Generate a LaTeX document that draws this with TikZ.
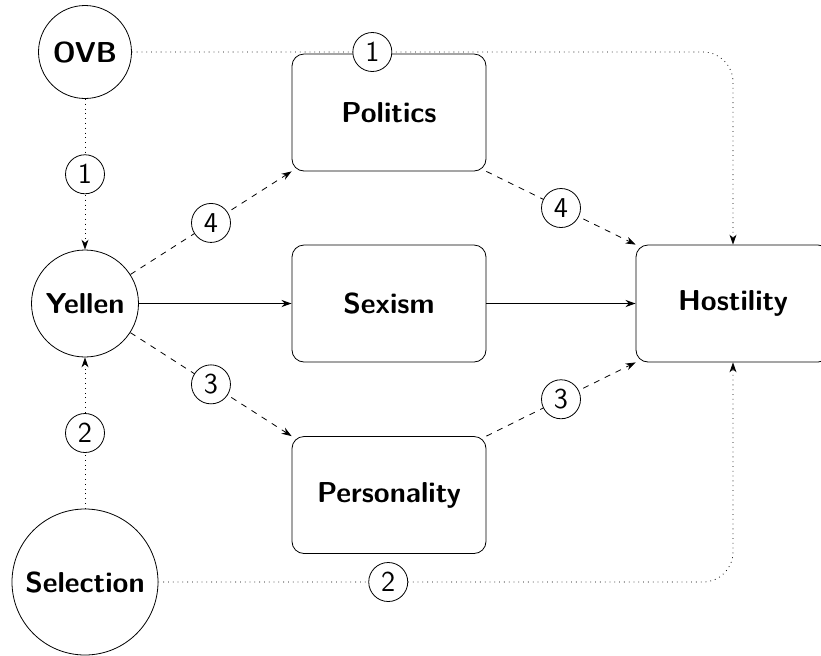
\documentclass[tikz,border=0pt]{standalone}
\usetikzlibrary{arrows.meta}
\begin{document}
\begin{tikzpicture}[x=0.5pt,y=-0.5pt,
  every node/.style={font=\sffamily\bfseries\Large},
  circ/.style={circle,draw,inner sep=0pt},
  box/.style={rectangle,draw,rounded corners=6pt,minimum width=97pt,minimum height=58.5pt},
  lab/.style={circle,draw,solid,fill=white,inner sep=0pt,minimum size=19.5pt,font=\sffamily\Large},
  tip/.style={-{Stealth[length=5pt,width=3.5pt]}},
  dotline/.style={tip,dotted},
  dashline/.style={tip,dashed},
  mainline/.style={tip,line width=0.9pt}]
\useasboundingbox (0,0) rectangle (821,655);
\node[circ,minimum size=46.5pt] (ovb) at (85,52) {OVB};
\node[circ,minimum size=53.5pt] (yellen) at (85,303.5) {Yellen};
\node[circ,minimum size=73pt] (sel) at (85,582) {Selection};
\node[box] (pol) at (389,112.5) {Politics};
\node[box] (sex) at (389,303.5) {Sexism};
\node[box] (pers) at (389,495) {Personality};
\node[box] (host) at (733,303.5) {Hostility};
\coordinate (c1) at (733,52);
\coordinate (c2) at (733,582);
\draw[mainline] (yellen) -- (sex);
\draw[mainline] (sex) -- (host);
\draw[dashline] (yellen) -- node[lab]{4} (pol.south west);
\draw[dashline] (yellen) -- node[lab]{3} (pers.north west);
\draw[dashline] (pol.south east) -- node[lab]{4} (host.north west);
\draw[dashline] (pers.north east) -- node[lab]{3} (host.south west);
\draw[dotline] (ovb) -- node[lab]{1} (yellen);
\draw[dotline] (sel) -- node[lab]{2} (yellen);
\draw[dotline,rounded corners=15pt] (ovb) -- node[lab,pos=0.4]{1} (c1) -- (host);
\draw[dotline,rounded corners=15pt] (sel) -- node[lab,pos=0.4]{2} (c2) -- (host);
\end{tikzpicture}
\end{document}
